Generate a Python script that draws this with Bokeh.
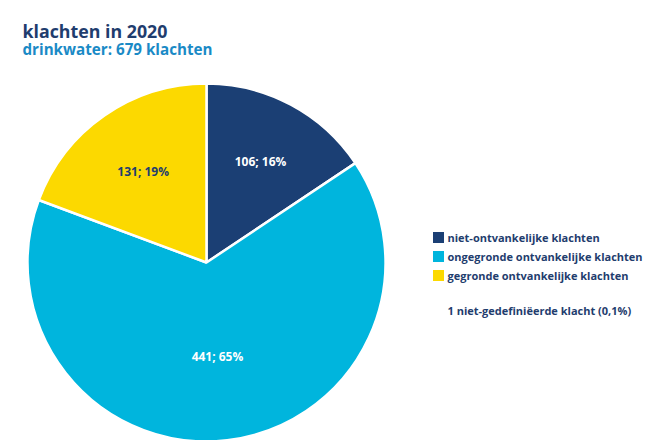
import math
from bokeh.plotting import figure
from bokeh.models import Range1d
from bokeh.core.properties import value
from bokeh.embed import file_html
from bokeh.resources import INLINE

title = "klachten in 2020"
subtitle = "drinkwater: 679 klachten"
categories = ["niet-ontvankelijke klachten", "ongegronde ontvankelijke klachten", "gegronde ontvankelijke klachten"]
counts = [106, 441, 131]
percents = [16, 65, 19]
note = "1 niet-gedefiniëerde klacht (0,1%)"

colors = ["#1b3f74", "#00b5dd", "#fcd900"]
label_colors = ["#ffffff", "#ffffff", "#1f3d6e"]
label_r = [0.64, 0.53, 0.62]
NAVY = "#1f3d6e"
FONT = "Open Sans"

W, H = 648, 440
p = figure(width=W, height=H, output_backend="svg", toolbar_location=None,
           x_range=Range1d(0, W), y_range=Range1d(440 - H, 440),
           min_border=0)
p.axis.visible = False
p.grid.visible = False
p.outline_line_color = None
p.background_fill_color = "white"

cx, cy, R = 206, 178, 179
total = sum(counts)
starts, ends = [], []
a = math.pi / 2
for c in counts:
    s = a
    e = a - 2 * math.pi * c / total
    starts.append(s)
    ends.append(e)
    a = e

p.wedge(x=[cx] * 3, y=[cy] * 3, radius=R, start_angle=starts, end_angle=ends,
        direction="clock", fill_color=colors, line_color="white", line_width=2.5)

lx, ly, texts = [], [], []
for i in range(3):
    m = (starts[i] + ends[i]) / 2
    lx.append(cx + R * label_r[i] * math.cos(m))
    ly.append(cy + R * label_r[i] * math.sin(m))
    texts.append(f"{counts[i]}; {percents[i]}%")
p.text(x=lx, y=ly, text=texts, text_color=label_colors, text_align="center",
       text_baseline="middle", text_font=value(FONT), text_font_style="bold",
       text_font_size="12px")

# titles
p.text(x=[22], y=[440 - 30], text=[title], text_color=NAVY, text_font=value(FONT),
       text_font_style="bold", text_font_size="17.8px", text_baseline="alphabetic")
p.text(x=[22], y=[440 - 48], text=[subtitle], text_color="#1a8ac6", text_font=value(FONT),
       text_font_style="bold", text_font_size="15.2px", text_baseline="alphabetic")

# legend
leg_y = [440 - 237, 440 - 256, 440 - 275]
p.scatter(x=[438] * 3, y=leg_y, marker="square", size=11, fill_color=colors, line_color=None)
p.text(x=[447] * 3, y=leg_y, text=categories, text_color=NAVY, text_font=value(FONT),
       text_font_style="bold", text_font_size="11px", text_baseline="middle")
p.text(x=[447], y=[440 - 310], text=[note], text_color=NAVY, text_font=value(FONT),
       text_font_style="bold", text_font_size="11px", text_baseline="middle")

open("out.html", "w").write(file_html(p, INLINE))
